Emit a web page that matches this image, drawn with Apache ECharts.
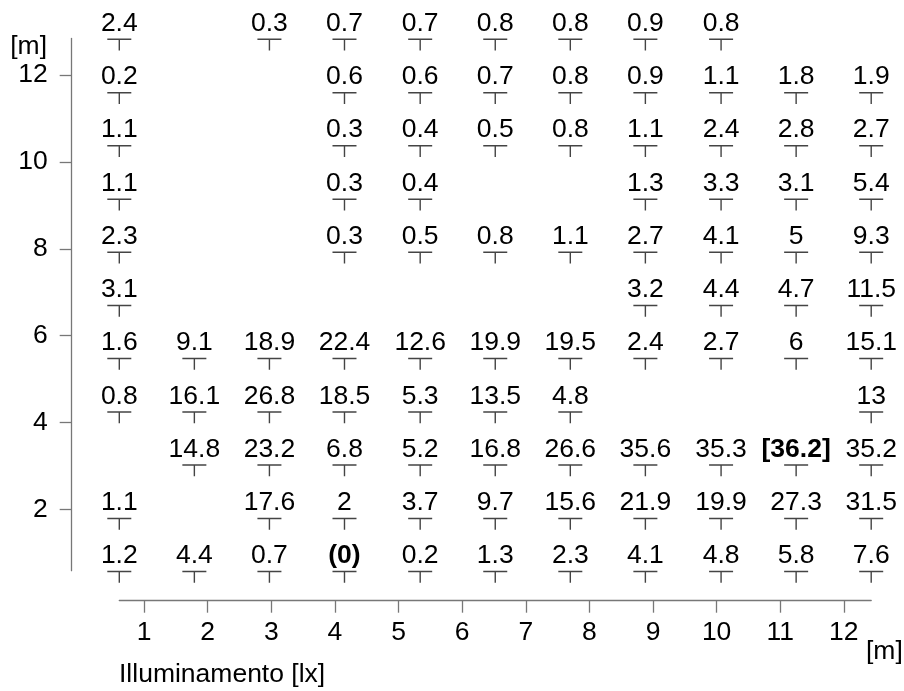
<!DOCTYPE html>
<html><head><meta charset="utf-8">
<script src="https://cdn.jsdelivr.net/npm/echarts@6/dist/echarts.min.js"></script>
<style>html,body{margin:0;padding:0;background:#fff}#c{width:904px;height:691px}</style>
</head><body><div id="c"></div>
<script>
// measurement point coordinates [m]
const xPositions = [0.61, 1.79, 2.97, 4.15, 5.34, 6.52, 7.70, 8.88, 10.07, 11.25, 12.43];
const yPositions = [0.59, 1.81, 3.04, 4.26, 5.49, 6.71, 7.94, 9.16, 10.39, 11.61, 12.84];
// illuminance [lx], rows from bottom (row0) to top (row10); null = no measurement
const row0  = [1.2, 4.4, 0.7, 0, 0.2, 1.3, 2.3, 4.1, 4.8, 5.8, 7.6];
const row1  = [1.1, null, 17.6, 2, 3.7, 9.7, 15.6, 21.9, 19.9, 27.3, 31.5];
const row2  = [null, 14.8, 23.2, 6.8, 5.2, 16.8, 26.6, 35.6, 35.3, 36.2, 35.2];
const row3  = [0.8, 16.1, 26.8, 18.5, 5.3, 13.5, 4.8, null, null, null, 13];
const row4  = [1.6, 9.1, 18.9, 22.4, 12.6, 19.9, 19.5, 2.4, 2.7, 6, 15.1];
const row5  = [3.1, null, null, null, null, null, null, 3.2, 4.4, 4.7, 11.5];
const row6  = [2.3, null, null, 0.3, 0.5, 0.8, 1.1, 2.7, 4.1, 5, 9.3];
const row7  = [1.1, null, null, 0.3, 0.4, null, null, 1.3, 3.3, 3.1, 5.4];
const row8  = [1.1, null, null, 0.3, 0.4, 0.5, 0.8, 1.1, 2.4, 2.8, 2.7];
const row9  = [0.2, null, null, 0.6, 0.6, 0.7, 0.8, 0.9, 1.1, 1.8, 1.9];
const row10 = [2.4, null, 0.3, 0.7, 0.7, 0.8, 0.8, 0.9, 0.8, null, null];
const xTicks = [1,2,3,4,5,6,7,8,9,10,11,12];
const yTicks = [2,4,6,8,10,12];

const rows = [row0,row1,row2,row3,row4,row5,row6,row7,row8,row9,row10];
const all = rows.flat().filter(v => v !== null);
const minVal = Math.min(...all), maxVal = Math.max(...all);

const FONT = 'Liberation Sans, Arial, Helvetica, sans-serif';
const FS = 26.5;
const data = [];
rows.forEach((r, j) => r.forEach((v, i) => {
  if (v === null) return;
  const item = { value: [xPositions[i], yPositions[j], v] };
  if (v === minVal || v === maxVal) item.label = { fontWeight: 'bold' };
  data.push(item);
}));

const chart = echarts.init(document.getElementById('c'));
chart.setOption({
  animation: false,
  grid: { left: 119.3, right: 32.8, top: 38.5, bottom: 120.3, containLabel: false },
  xAxis: {
    type: 'value', min: Math.min(...xPositions), max: Math.max(...xPositions),
    position: 'bottom', offset: 30,
    axisLine: { show: true, lineStyle: { color: '#777', width: 1.3 } },
    axisTick: { show: true, length: 12, customValues: xTicks, lineStyle: { color: '#777', width: 1.3 } },
    axisLabel: { customValues: xTicks, margin: 18, fontSize: FS, color: '#000', fontFamily: FONT },
    splitLine: { show: false }
  },
  yAxis: {
    type: 'value', min: Math.min(...yPositions), max: Math.max(...yPositions),
    position: 'left', offset: 47.6,
    axisLine: { show: true, lineStyle: { color: '#777', width: 1.3 } },
    axisTick: { show: true, length: 12, customValues: yTicks, lineStyle: { color: '#777', width: 1.3 } },
    axisLabel: { customValues: yTicks, margin: 24, fontSize: FS, color: '#000', fontFamily: FONT },
    splitLine: { show: false }
  },
  graphic: [
    { type: 'text', style: { text: '[m]', x: 47, y: 47, align: 'right', verticalAlign: 'middle', fontSize: FS, fontFamily: FONT, fill: '#000' } },
    { type: 'text', style: { text: '[m]', x: 866, y: 652, align: 'left', verticalAlign: 'middle', fontSize: FS, fontFamily: FONT, fill: '#000' } },
    { type: 'text', style: { text: 'Illuminamento [lx]', x: 119, y: 675, align: 'left', verticalAlign: 'middle', fontSize: FS, fontFamily: FONT, fill: '#000' } }
  ],
  series: [{
    type: 'scatter',
    data: data,
    symbol: 'path://M0,0H24V1.5H0Z M11.3,1.5H12.7V12H11.3Z',
    symbolSize: [24, 12],
    symbolOffset: [0, 6],
    itemStyle: { color: '#444', opacity: 1 },
    label: {
      show: true, position: 'inside', offset: [0, -21],
      fontSize: FS, fontFamily: FONT, color: '#000',
      formatter: p => {
        const v = p.value[2];
        if (v === minVal) return '(' + v + ')';
        if (v === maxVal) return '[' + v + ']';
        return String(v);
      }
    },
    emphasis: { disabled: true }
  }]
});
</script></body></html>
